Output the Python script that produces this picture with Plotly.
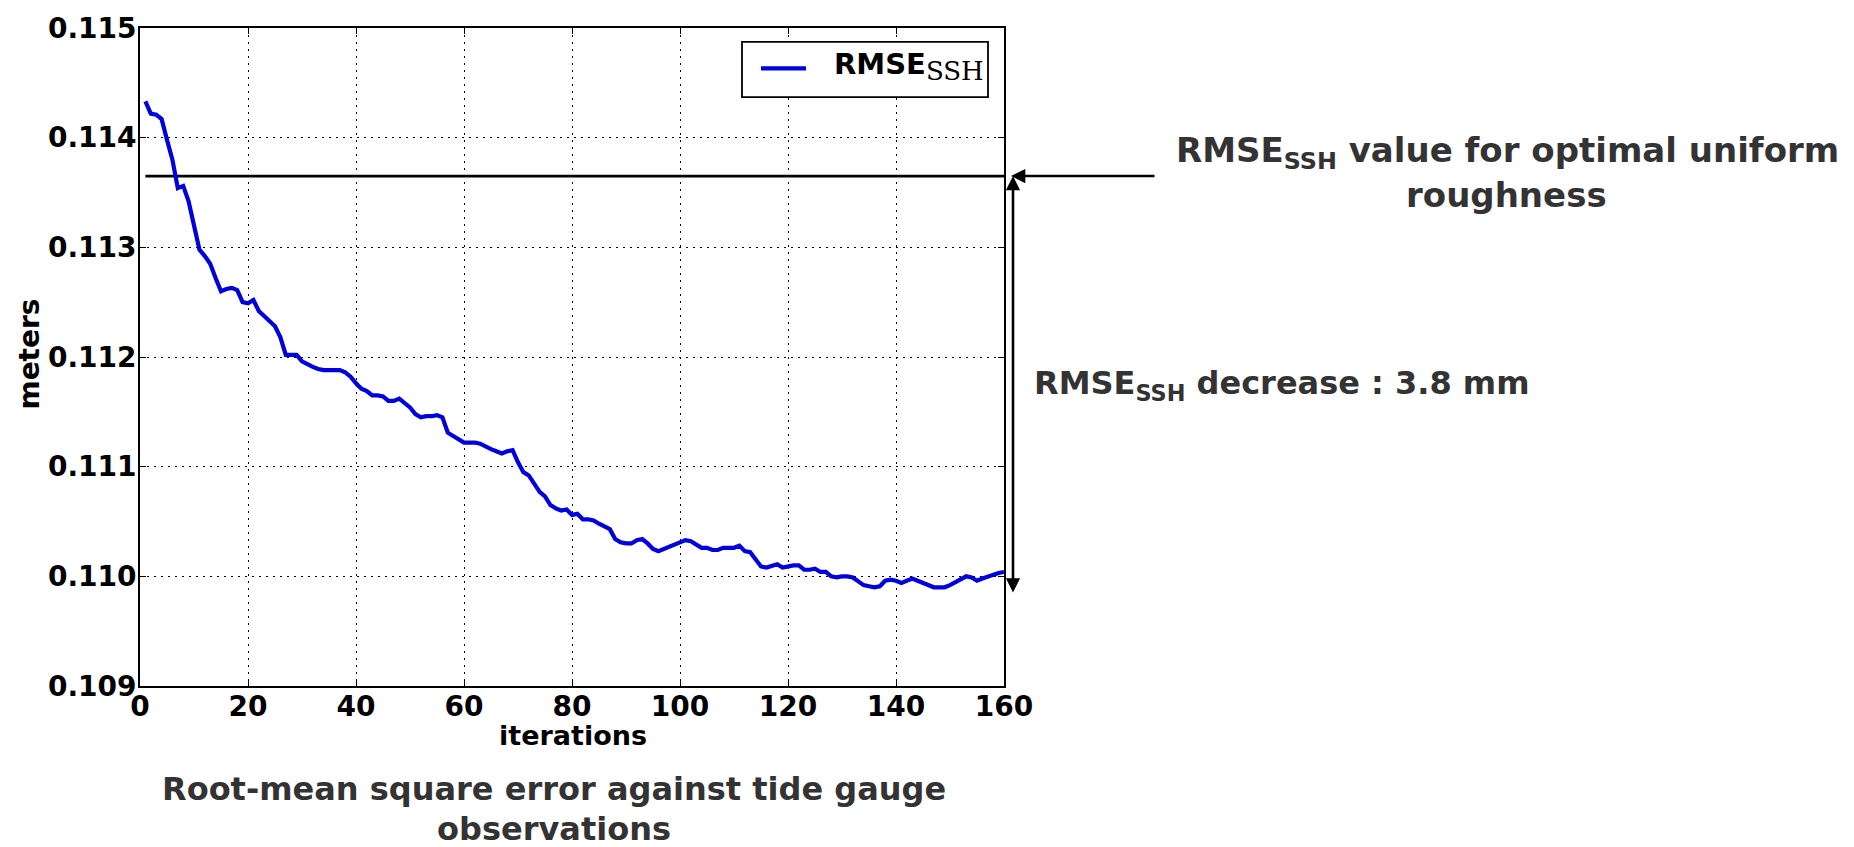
import plotly.graph_objects as go

# ---------------- data ----------------
iterations = list(range(1, 161))
rmse_ssh = [
    0.11433, 0.11422, 0.11421, 0.11417, 0.11398, 0.11380, 0.11354, 0.11356, 0.11342, 0.11322,
    0.11298, 0.11292, 0.11285, 0.11272, 0.11260, 0.11262, 0.11263, 0.11261, 0.11250, 0.11249,
    0.11252, 0.11242, 0.11237, 0.11232, 0.11228, 0.11218, 0.11202, 0.11202, 0.11202, 0.11196,
    0.11193, 0.11191, 0.11189, 0.11188, 0.11188, 0.11188, 0.11188, 0.11186, 0.11182, 0.11176,
    0.11171, 0.11169, 0.11165, 0.11165, 0.11164, 0.11160, 0.11160, 0.11162, 0.11158, 0.11154,
    0.11148, 0.11145, 0.11146, 0.11146, 0.11147, 0.11145, 0.11131, 0.11128, 0.11126, 0.11122,
    0.11122, 0.11122, 0.11121, 0.11118, 0.11116, 0.11114, 0.11112, 0.11114, 0.11115, 0.11104,
    0.11095, 0.11092, 0.11085, 0.11077, 0.11073, 0.11065, 0.11062, 0.11060, 0.11061, 0.11056,
    0.11057, 0.11052, 0.11052, 0.11051, 0.11048, 0.11046, 0.11043, 0.11034, 0.11031, 0.11030,
    0.11030, 0.11033, 0.11034, 0.11030, 0.11025, 0.11023, 0.11025, 0.11027, 0.11029, 0.11030,
    0.11033, 0.11032, 0.11029, 0.11026, 0.11026, 0.11024, 0.11024, 0.11026, 0.11026, 0.11026,
    0.11028, 0.11023, 0.11022, 0.11015, 0.11009, 0.11008, 0.11010, 0.11011, 0.11008, 0.11009,
    0.11010, 0.11010, 0.11006, 0.11006, 0.11007, 0.11004, 0.11004, 0.11000, 0.10999, 0.11000,
    0.11000, 0.10999, 0.10996, 0.10992, 0.10991, 0.10990, 0.10991, 0.10996, 0.10997, 0.10996,
    0.10994, 0.10996, 0.10998, 0.10996, 0.10994, 0.10992, 0.10990, 0.10990, 0.10990, 0.10992,
    0.10995, 0.10998, 0.11000, 0.10999, 0.10996, 0.10998, 0.11000, 0.11002, 0.11003, 0.11004,
]
uniform_iterations = [1, 160]
uniform_rmse = [0.11365, 0.11365]

x_ticks = [0, 20, 40, 60, 80, 100, 120, 140, 160]
y_ticks = [0.109, 0.110, 0.111, 0.112, 0.113, 0.114, 0.115]
y_tick_labels = ["0.109", "0.110", "0.111", "0.112", "0.113", "0.114", "0.115"]

# ---------------- layout geometry (pixels) ----------------
W, H = 1854, 847
L, R, T, B = 140, 1004, 19, 686


def px(x):
    return (x - L) / (R - L)


def py(y):
    return (B - y) / (B - T)


FONT = "DejaVu Sans"
GREY = "#333333"
BLUE = "#0000dd"
SSH_SUB = "<sub><span style='font-family:DejaVu Serif;font-weight:normal;font-size:26px'>SSH</span></sub>"

fig = go.Figure()
fig.add_trace(go.Scatter(
    x=uniform_iterations, y=uniform_rmse, mode="lines",
    line=dict(color="black", width=2.8), showlegend=False, hoverinfo="skip",
))
fig.add_trace(go.Scatter(
    x=iterations, y=rmse_ssh, mode="lines",
    line=dict(color=BLUE, width=4.2), showlegend=False,
    name="RMSE SSH",
))

axis_common = dict(
    showline=True, linecolor="black", linewidth=1.8, mirror="ticks",
    ticks="inside", ticklen=6, tickwidth=1.2, tickcolor="black",
    showgrid=True, gridcolor="black", gridwidth=1.2, griddash="2px,5px",
    zeroline=False,
    tickfont=dict(family=FONT, size=28, color="black", weight="bold"),
)

fig.update_xaxes(range=[0, 160], tickvals=x_ticks, ticklabelstandoff=-6, **axis_common)
fig.update_yaxes(range=[0.109, 0.115], tickvals=y_ticks, ticktext=y_tick_labels,
                 ticklabelstandoff=-4, **axis_common)

annotations = [
    dict(text="<b>meters</b>", x=px(30), y=py(349), textangle=-90,
         font=dict(family=FONT, size=28, color="black")),
    dict(text="<b>iterations</b>", x=px(573), y=py(736),
         font=dict(family=FONT, size=27, color="black")),
    dict(text="<b>Root-mean square error against tide gauge</b>", x=px(554), y=py(790),
         font=dict(family=FONT, size=32, color=GREY)),
    dict(text="<b>observations</b>", x=px(554), y=py(831),
         font=dict(family=FONT, size=32, color=GREY)),
    dict(text="<b>RMSE<sub>SSH</sub> value for optimal uniform</b>", x=px(1507), y=py(145),
         font=dict(family=FONT, size=34, color=GREY)),
    dict(text="<b>roughness</b>", x=px(1506), y=py(188),
         font=dict(family=FONT, size=34, color=GREY)),
    dict(text="<b>RMSE<sub>SSH</sub> decrease : 3.8 mm</b>", x=px(1032), y=py(381),
         xanchor="left", font=dict(family=FONT, size=32, color=GREY)),
    # legend label
    dict(text="<b>RMSE</b>" + SSH_SUB, x=px(832), y=py(58), xanchor="left",
         font=dict(family=FONT, size=29, color="black")),
]
for a in annotations:
    a.setdefault("xanchor", "center")
    a.update(xref="paper", yref="paper", showarrow=False, yanchor="middle")

# arrows
annotations.append(dict(
    text="", xref="paper", yref="y", x=px(1011), y=uniform_rmse[0],
    ax=145, ay=0, showarrow=True, arrowhead=2, arrowsize=1.1, arrowwidth=2.6,
    arrowcolor="black", standoff=0,
))
annotations.append(dict(
    text="", xref="paper", yref="y", x=px(1013), y=uniform_rmse[0],
    ax=0, ay=418, showarrow=True, arrowhead=2, startarrowhead=2, arrowside="end+start",
    arrowsize=1.1, startarrowsize=1.1, arrowwidth=2.6, arrowcolor="black",
    standoff=0, startstandoff=0,
))

# legend frame and line sample
shapes = [
    dict(type="rect", xref="paper", yref="paper", x0=px(742), x1=px(988), y0=py(89), y1=py(33),
         line=dict(color="black", width=1.8), fillcolor="white", layer="above"),
    dict(type="line", xref="paper", yref="paper", x0=px(761), x1=px(806), y0=py(60), y1=py(60),
         line=dict(color=BLUE, width=4.2), layer="above"),
]

fig.update_layout(
    width=W, height=H, autosize=False,
    margin=dict(l=L, r=W - R, t=T, b=H - B, pad=0),
    paper_bgcolor="white", plot_bgcolor="white",
    font=dict(family=FONT, color="black"),
    annotations=annotations,
    shapes=shapes,
    showlegend=False,
)

fig.write_html("out.html")
